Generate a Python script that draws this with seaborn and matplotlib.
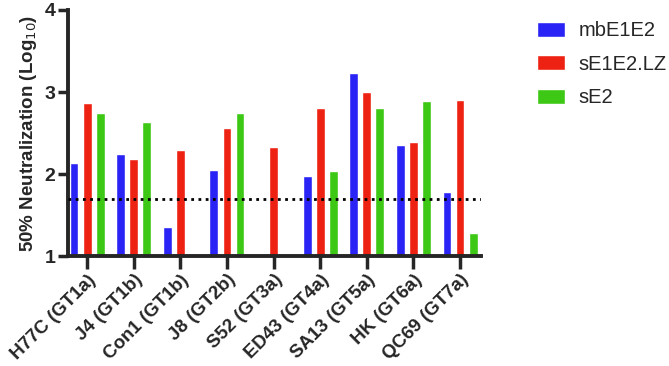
import numpy as np
import pandas as pd
import matplotlib
matplotlib.use("Agg")
import matplotlib.pyplot as plt
import seaborn as sns

# Data
strains = ['H77C (GT1a)', 'J4 (GT1b)', 'Con1 (GT1b)', 'J8 (GT2b)', 'S52 (GT3a)',
           'ED43 (GT4a)', 'SA13 (GT5a)', 'HK (GT6a)', 'QC69 (GT7a)']
mbE1E2 = [2.14, 2.25, 1.35, 2.05, np.nan, 1.98, 3.23, 2.35, 1.78]
sE1E2_LZ = [2.87, 2.18, 2.29, 2.56, 2.33, 2.81, 3.00, 2.39, 2.90]
sE2 = [2.74, 2.63, np.nan, 2.74, np.nan, 2.04, 2.81, 2.89, 1.28]
series = ['mbE1E2', 'sE1E2.LZ', 'sE2']
colors = ['#2A23F5', '#EE2212', '#3CC814']
cutoff = 1.7

df = pd.DataFrame({
    'strain': strains * 3,
    'antigen': np.repeat(series, len(strains)),
    'value': mbE1E2 + sE1E2_LZ + sE2,
})

sns.set_style('ticks')
plt.rcParams['font.family'] = ['Liberation Sans', 'DejaVu Sans']

fig = plt.figure(figsize=(6.69, 3.66), dpi=100)
ax = fig.add_axes([0.1016, 0.3005, 0.6174, 0.6722])

sns.barplot(data=df, x='strain', y='value', hue='antigen', order=strains,
            hue_order=series, palette=colors, width=0.84, gap=0.32,
            ax=ax, errorbar=None, saturation=1)

# bars are clipped at the log baseline of 1
ax.set_ylim(1, 4)
ax.set_xlim(-0.41, 8.45)
ax.axhline(cutoff, color='black', lw=2, ls=(0, (1, 1.6)), zorder=5)

ax.set_yticks([1, 2, 3, 4])
ax.set_ylabel('50% Neutralization (Log$_{10}$)', fontsize=13.5, fontweight='bold', labelpad=4)
ax.set_xlabel('')
ax.tick_params(axis='y', length=7, width=2.5, labelsize=14, pad=2)
ax.tick_params(axis='x', length=9, width=2.5, labelsize=13.5, pad=2)
for lab in ax.get_yticklabels():
    lab.set_fontweight('bold')
for lab in ax.get_xticklabels():
    lab.set_fontweight('bold')
    lab.set_rotation(45)
    lab.set_ha('right')
    lab.set_rotation_mode('anchor')

for s in ['left', 'bottom']:
    ax.spines[s].set_linewidth(2.8)
sns.despine(ax=ax)

sns.move_legend(ax, loc='upper left', bbox_to_anchor=(0.803, 0.942),
                bbox_transform=fig.transFigure, frameon=False, title=None,
                fontsize=14.5, handlelength=1.4, handleheight=0.75,
                labelspacing=0.72, handletextpad=0.65, borderpad=0,
                borderaxespad=0)

fig.savefig('out.png', dpi=100)
